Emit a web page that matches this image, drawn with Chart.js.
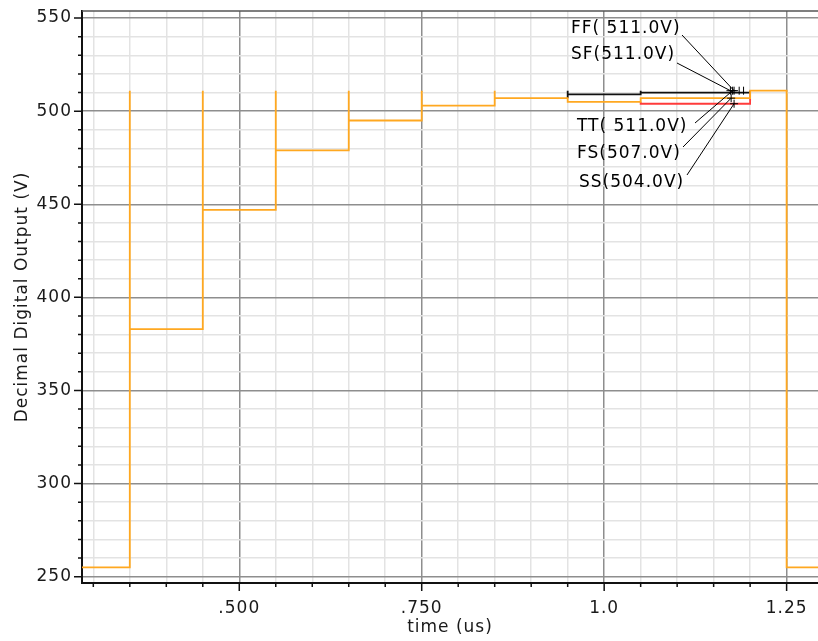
<!DOCTYPE html>
<html><head><meta charset="utf-8">
<script src="https://cdn.jsdelivr.net/npm/chart.js@4.4.1/dist/chart.umd.min.js"></script>
<style>html,body{margin:0;padding:0;background:#fff;}#wrap{width:818px;height:641px;}</style>
</head><body><div id="wrap"><canvas id="c" width="818" height="641"></canvas></div>
<script>
// ---- data ----
const stepTimes = [0.35, 0.45, 0.55, 0.65, 0.75, 0.85, 0.95, 1.05, 1.20, 1.25];
const startLevel = 255;
const spikeLevel = 511;
const tStart = 0.28, tEnd = 1.30;
const fsLevels = [383, 447, 479, 495, 503, 507, 505, 507, 511, 255];
const fsSpikes = [1, 1, 1, 1, 1, 1, 0, 0, 0, 0];
const ttLevels = [383, 447, 479, 495, 503, 507, 509, 510, 511, 255];
const ttSpikes = [1, 1, 1, 1, 1, 1, 1, 1, 0, 0];
const ssLevels = [383, 447, 479, 495, 503, 507, 505, 504, 511, 255];
const ssSpikes = [1, 1, 1, 1, 1, 1, 0, 0, 0, 0];
// times between which each trace differs from the top (orange) trace
const ttSplit = 0.95, ssSplit = 1.05, rejoin = 1.20;

const xTickValues = [0.30,0.35,0.40,0.45,0.50,0.55,0.60,0.65,0.70,0.75,0.80,0.85,0.90,0.95,1.00,1.05,1.10,1.15,1.20,1.25];
const xMajorValues = [0.50, 0.75, 1.00, 1.25];
const xMajorLabels = ['.500', '.750', '1.0', '1.25'];
const yTickValues = [250,260,270,280,290,300,310,320,330,340,350,360,370,380,390,400,410,420,430,440,450,460,470,480,490,500,510,520,530,540,550];
const yMajorValues = [250, 300, 350, 400, 450, 500, 550];
const yMajorLabels = ['250', '300', '350', '400', '450', '500', '550'];

const markerLabels = ['FF( 511.0V)', 'SF(511.0V)', 'TT( 511.0V)', 'FS(507.0V)', 'SS(504.0V)'];
const markerTimes  = [1.178, 1.173, 1.176, 1.174, 1.178];
const markerValues = [511, 511, 511, 507, 504];

// ---- layout of the marker labels (pixels) ----
const labelLayout = [
  {tx: 571, ty: 29,  lx: 682, ly: 35},
  {tx: 571, ty: 55,  lx: 677, ly: 63},
  {tx: 577, ty: 127, lx: 695, ly: 123},
  {tx: 577, ty: 154, lx: 683, ly: 147},
  {tx: 579, ty: 183, lx: 687, ly: 175}
];

function buildSteps(levels, spikes) {
  const pts = [{x: tStart, y: startLevel}];
  let prev = startLevel;
  stepTimes.forEach((t, i) => {
    pts.push({x: t, y: prev});
    if (spikes[i]) pts.push({x: t, y: spikeLevel});
    pts.push({x: t, y: levels[i]});
    prev = levels[i];
  });
  pts.push({x: tEnd, y: prev});
  return pts;
}
const near = (v, arr) => arr.findIndex(m => Math.abs(m - v) < 1e-6);

const FONT = {family: "'DejaVu Sans', sans-serif", size: 17};
const SPACING = '1px';

const spacingPlugin = {
  id: 'spacing',
  beforeUpdate(chart) { chart.ctx.letterSpacing = SPACING; },
  beforeDraw(chart) { chart.ctx.letterSpacing = SPACING; }
};

const decoPlugin = {
  id: 'deco',
  afterDraw(chart) {
    const {ctx, chartArea: a, scales: {x, y}} = chart;
    ctx.save();
    ctx.letterSpacing = SPACING;
    ctx.strokeStyle = '#111';
    ctx.lineWidth = 1.5;
    ctx.beginPath();
    yTickValues.forEach(v => {
      const py = y.getPixelForValue(v);
      const len = near(v, yMajorValues) >= 0 ? 8 : 4;
      ctx.moveTo(a.left - len, py); ctx.lineTo(a.left, py);
    });
    xTickValues.forEach(v => {
      const px = x.getPixelForValue(v);
      const len = near(v, xMajorValues) >= 0 ? 8 : 4;
      ctx.moveTo(px, a.bottom); ctx.lineTo(px, a.bottom + len);
    });
    ctx.stroke();
    ctx.strokeStyle = '#555';
    ctx.beginPath();
    ctx.moveTo(a.left, a.top); ctx.lineTo(a.right, a.top);
    ctx.stroke();
    ctx.strokeStyle = '#000';
    ctx.lineWidth = 1;
    ctx.fillStyle = '#000';
    ctx.font = "17px 'DejaVu Sans', sans-serif";
    ctx.textBaseline = 'middle';
    ctx.textAlign = 'left';
    markerLabels.forEach((txt, i) => {
      const px = x.getPixelForValue(markerTimes[i]);
      const py = y.getPixelForValue(markerValues[i]);
      const L = labelLayout[i];
      ctx.beginPath();
      ctx.moveTo(L.lx, L.ly); ctx.lineTo(px, py);
      ctx.moveTo(px - 4, py); ctx.lineTo(px + 4, py);
      ctx.moveTo(px, py - 4); ctx.lineTo(px, py + 4);
      ctx.stroke();
      ctx.fillText(txt, L.tx, L.ty);
    });
    [1.185, 1.191].forEach(t => {
      const px = x.getPixelForValue(t), py = y.getPixelForValue(spikeLevel);
      ctx.beginPath(); ctx.moveTo(px, py - 4); ctx.lineTo(px, py + 4); ctx.stroke();
    });
    ctx.restore();
  }
};

const lineStyle = {pointRadius: 0, borderWidth: 1.8, tension: 0, fill: false, borderJoinStyle: 'miter', borderCapStyle: 'butt'};
const visibleBetween = (split, color) => ({
  borderColor: c => (c.p0.parsed.x < split - 1e-6 || c.p1.parsed.x > rejoin + 1e-6) ? 'rgba(0,0,0,0)' : color
});

new Chart(document.getElementById('c'), {
  type: 'line',
  data: {
    datasets: [
      Object.assign({label: 'FS', data: buildSteps(fsLevels, fsSpikes), borderColor: '#ffa820'}, lineStyle),
      Object.assign({label: 'TT', data: buildSteps(ttLevels, ttSpikes), borderColor: '#111111', segment: visibleBetween(ttSplit, '#111111')}, lineStyle),
      Object.assign({label: 'SS', data: buildSteps(ssLevels, ssSpikes), borderColor: '#ff3b3b', segment: visibleBetween(ssSplit, '#ff3b3b')}, lineStyle)
    ]
  },
  options: {
    responsive: false,
    animation: false,
    layout: {padding: {top: 11, left: 0, right: 0, bottom: 0}},
    plugins: {legend: {display: false}, tooltip: {enabled: false}},
    scales: {
      x: {
        type: 'linear', min: 0.2845, max: 1.293,
        afterBuildTicks: s => { s.ticks = xTickValues.map(v => ({value: v})); },
        afterFit: s => { s.height = 58; s.paddingLeft = 0; s.paddingRight = 0; },
        ticks: {
          autoSkip: false, maxRotation: 0, minRotation: 0, padding: 15,
          color: '#1a1a1a', font: FONT,
          callback: v => { const k = near(v, xMajorValues); return k >= 0 ? xMajorLabels[k] : ''; }
        },
        grid: {
          drawTicks: false, lineWidth: 1.5,
          color: c => (c.tick && near(c.tick.value, xMajorValues) >= 0) ? '#8e8e8e' : '#e3e3e3'
        },
        border: {color: '#111', width: 2},
        title: {display: true, text: 'time (us)', color: '#1a1a1a', font: FONT, padding: {top: 0, bottom: 3}}
      },
      y: {
        type: 'linear', min: 246.6, max: 553.8,
        afterBuildTicks: s => { s.ticks = yTickValues.map(v => ({value: v})); },
        afterFit: s => { s.width = 82; s.paddingTop = 0; s.paddingBottom = 0; },
        ticks: {
          autoSkip: false, padding: 10, color: '#1a1a1a', font: FONT,
          callback: v => { const k = near(v, yMajorValues); return k >= 0 ? yMajorLabels[k] : ''; }
        },
        grid: {
          drawTicks: false, lineWidth: 1.5,
          color: c => (c.tick && near(c.tick.value, yMajorValues) >= 0) ? '#8e8e8e' : '#e3e3e3'
        },
        border: {color: '#111', width: 2},
        title: {display: true, text: 'Decimal Digital Output (V)', color: '#1a1a1a', font: FONT, padding: {top: 12, bottom: 0}}
      }
    }
  },
  plugins: [spacingPlugin, decoPlugin]
});
</script>
</body></html>
